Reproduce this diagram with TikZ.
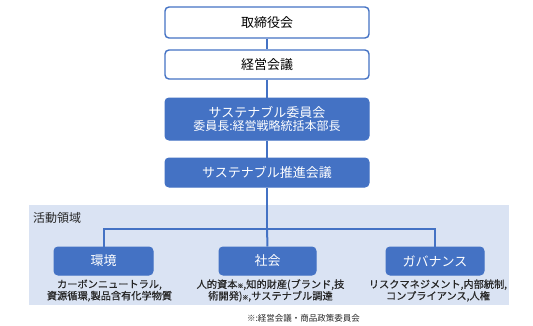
\documentclass[tikz,border=0pt]{standalone}
\usepackage{fontspec}
\setmainfont{Noto Sans CJK JP}
\begin{document}
\begin{tikzpicture}[x=1pt,y=1pt,
  conn/.style={draw=boxblue,line width=2pt},
  wbox/.style={draw=boxblue,line width=1.4pt,fill=white,rounded corners=4pt,minimum width=204pt,text=black,font=\fontsize{13}{15}\selectfont},
  bbox/.style={draw=boxblue,line width=1pt,fill=boxblue,rounded corners=4pt,minimum width=204pt,text=white,font=\fontsize{13}{15}\selectfont,align=center},
  sbox/.style={draw=boxblue,line width=1pt,fill=boxblue,rounded corners=4pt,minimum height=28pt,text=white,font=\fontsize{13}{15}\selectfont},
  desc/.style={text=txtgray,font=\fontsize{10.2}{11.6}\selectfont\addfontfeature{FakeBold=0.6},align=center,inner sep=0pt}
]
\definecolor{boxblue}{HTML}{4472C4}
\definecolor{bglight}{HTML}{DAE3F3}
\definecolor{txtgray}{HTML}{262626}
\useasboundingbox (0,0) rectangle (533,325);
\fill[bglight] (29,20) rectangle (509,120);
\node[anchor=west,text=txtgray,font=\fontsize{12}{14}\selectfont,inner sep=0pt] (area) at (33,107.5) {活動領域};

\node[wbox,minimum height=31pt] (b1) at (267,302.5) {取締役会};
\node[wbox,minimum height=29pt] (b2) at (267,260.5) {経営会議};
\node[bbox,minimum height=42pt,inner sep=1pt] (b3) at (267,206) {サステナブル委員会\\[-2pt]{\fontsize{12}{14}\selectfont 委員長:経営戦略統括本部長}};
\node[bbox,minimum height=29pt] (b4) at (267,152.5) {サステナブル推進会議};

\coordinate (j) at (267,96.5);
\node[sbox,minimum width=99pt] (e) at (103.5,64) {環境};
\node[sbox,minimum width=97pt] (s) at (267.5,64) {社会};
\node[sbox,minimum width=98pt] (g) at (435,64) {ガバナンス};

\draw[conn] (b1.south) -- (b2.north);
\draw[conn] (b2.south) -- (b3.north);
\draw[conn] (b3.south) -- (b4.north);
\draw[conn] (b4.south) -- (j);
\draw[conn] (e.north) |- (j) -| (g.north);
\draw[conn] (j) -- (s.north);

\node[desc] (ed) at (109.5,34.5) {カーボンニュートラル,\\資源循環,製品含有化学物質};
\node[desc] (sd) at (270.5,34.5) {人的資本{\fontsize{6}{7}\selectfont ※},知的財産(ブランド,技\\術開発){\fontsize{6}{7}\selectfont ※},サステナブル調達};
\node[desc] (gd) at (438,34.5) {リスクマネジメント,内部統制,\\コンプライアンス,人権};
\node[text=txtgray,font=\fontsize{8.5}{10}\selectfont,inner sep=0pt] (fn) at (303.5,7) {※:経営会議・商品政策委員会};
\end{tikzpicture}
\end{document}
